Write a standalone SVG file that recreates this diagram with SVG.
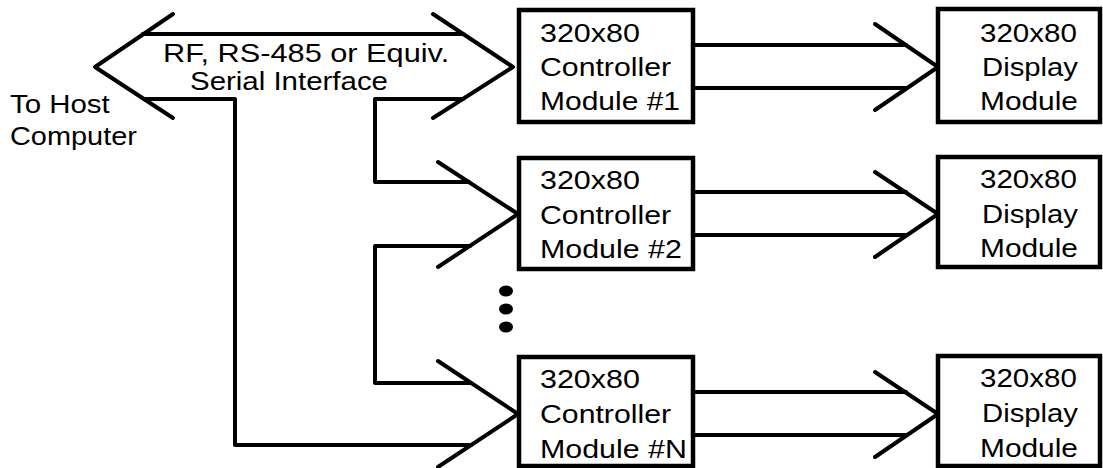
<svg xmlns="http://www.w3.org/2000/svg" width="1103" height="468" viewBox="0 0 1103 468">
<style>
.ln{fill:none;stroke:#000;stroke-width:4;stroke-linecap:round;stroke-linejoin:round}
.box{fill:#fff;stroke:#000;stroke-width:4.5}
text{font-family:"Liberation Sans",Arial,sans-serif;font-size:25.5px;fill:#000}
.dot{fill:#000}
</style>
<rect width="1103" height="468" fill="#fff"/>
<g id="connectors">
<polyline class="ln" points="173,14 95,67 173,118"/>
<polyline class="ln" points="433,14 513,67 433,118"/>
<line class="ln" x1="143" y1="34" x2="463" y2="34"/>
<polyline class="ln" points="144,99 235,99 235,445 471,445"/>
<polyline class="ln" points="463,99 375,99 375,182 469,182"/>
<polyline class="ln" points="470,246 375,246 375,383 471,383"/>
<polyline class="ln" points="438,162 518,214 438,267"/>
<polyline class="ln" points="438,361 518,414 438,467"/>
<line class="ln" x1="693" y1="45" x2="906" y2="45"/>
<line class="ln" x1="693" y1="88" x2="906" y2="88"/>
<polyline class="ln" points="875,24 938,67 875,110"/>
<line class="ln" x1="693" y1="192" x2="906" y2="192"/>
<line class="ln" x1="693" y1="235" x2="906" y2="235"/>
<polyline class="ln" points="875,172 938,214 875,257"/>
<line class="ln" x1="693" y1="392" x2="906" y2="392"/>
<line class="ln" x1="693" y1="435" x2="906" y2="435"/>
<polyline class="ln" points="875,372 938,414 875,457"/>
</g>
<g id="bus-label">
<text transform="translate(163,62) scale(1.205,1)">RF, RS-485 or Equiv.</text>
<text transform="translate(190,90) scale(1.155,1)">Serial Interface</text>
</g>
<g id="host">
<text transform="translate(10,113) scale(1.154,1)">To Host</text>
<text transform="translate(10,145) scale(1.134,1)">Computer</text>
</g>
<g id="controller1">
<rect class="box" x="519" y="10" width="174" height="112"/>
<text transform="translate(540,42) scale(1.195,1)">320x80</text>
<text transform="translate(540,76) scale(1.186,1)">Controller</text>
<text transform="translate(540,110) scale(1.176,1)">Module #1</text>
</g>
<g id="controller2">
<rect class="box" x="519" y="158" width="174" height="111"/>
<text transform="translate(540,189) scale(1.195,1)">320x80</text>
<text transform="translate(540,224) scale(1.186,1)">Controller</text>
<text transform="translate(540,258) scale(1.192,1)">Module #2</text>
</g>
<g id="controllerN">
<rect class="box" x="519" y="357" width="174" height="109"/>
<text transform="translate(540,388) scale(1.195,1)">320x80</text>
<text transform="translate(540,423) scale(1.186,1)">Controller</text>
<text transform="translate(540,458) scale(1.192,1)">Module #N</text>
</g>
<g id="display1">
<rect class="box" x="938" y="9" width="162" height="113"/>
<text transform="translate(980,42) scale(1.159,1)">320x80</text>
<text transform="translate(982,76) scale(1.148,1)">Display</text>
<text transform="translate(980,110) scale(1.172,1)">Module</text>
</g>
<g id="display2">
<rect class="box" x="938" y="157" width="162" height="110"/>
<text transform="translate(980,188) scale(1.159,1)">320x80</text>
<text transform="translate(982,223) scale(1.148,1)">Display</text>
<text transform="translate(980,257) scale(1.172,1)">Module</text>
</g>
<g id="displayN">
<rect class="box" x="938" y="356" width="162" height="110"/>
<text transform="translate(980,387) scale(1.159,1)">320x80</text>
<text transform="translate(982,422) scale(1.148,1)">Display</text>
<text transform="translate(980,457) scale(1.172,1)">Module</text>
</g>
<g id="ellipsis">
<ellipse class="dot" cx="506" cy="291" rx="7" ry="5.5"/>
<ellipse class="dot" cx="506" cy="309" rx="7" ry="5.5"/>
<ellipse class="dot" cx="506" cy="327" rx="7" ry="5.5"/>
</g>
</svg>
